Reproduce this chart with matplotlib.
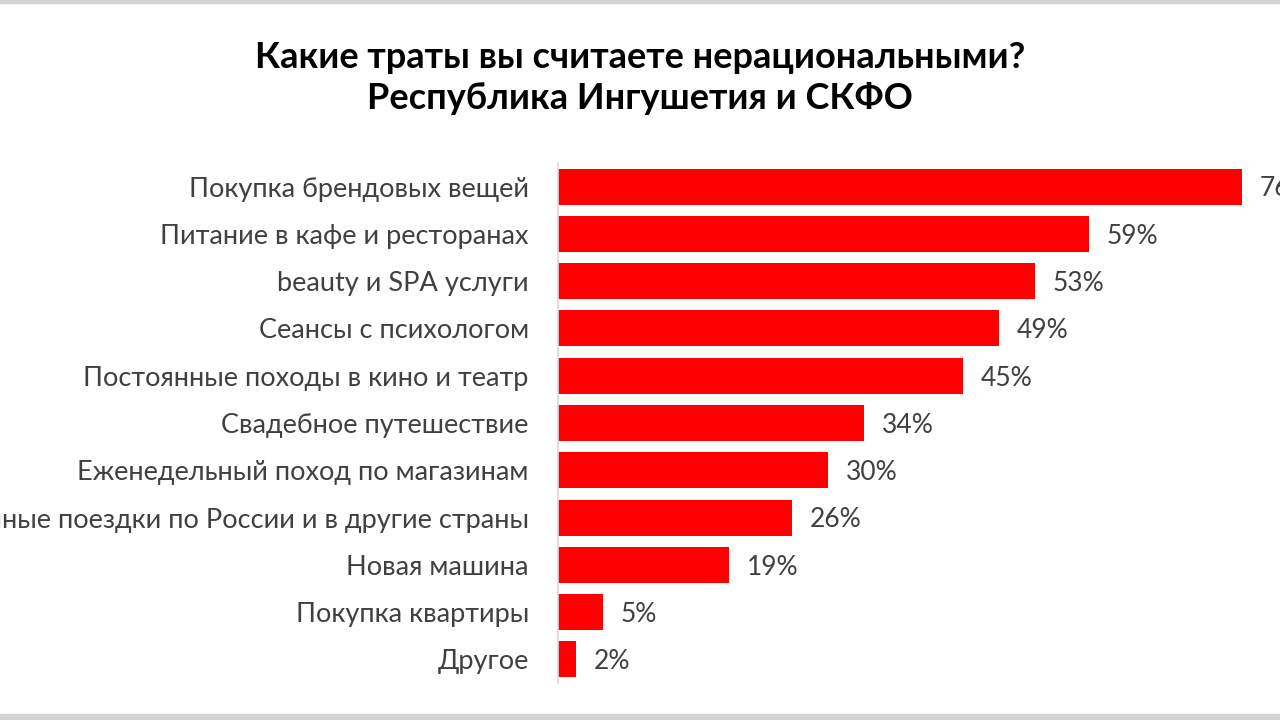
import matplotlib.pyplot as plt
from matplotlib.patches import Rectangle

categories = [
    "Покупка брендовых вещей",
    "Питание в кафе и ресторанах",
    "beauty и SPA услуги",
    "Сеансы с психологом",
    "Постоянные походы в кино и театр",
    "Свадебное путешествие",
    "Еженедельный поход по магазинам",
    "Постоянные поездки по России и в другие страны",
    "Новая машина",
    "Покупка квартиры",
    "Другое",
]
values = [76, 59, 53, 49, 45, 34, 30, 26, 19, 5, 2]

title = "Какие траты вы считаете нерациональными?\nРеспублика Ингушетия и СКФО"

plt.rcParams['font.family'] = ['Lato', 'DejaVu Sans']

W, H = 1280, 720
fig = plt.figure(figsize=(W / 100, H / 100), dpi=100)

# axes placed in pixel units: x0 = 558px, 9 px per percent, rows from 163 to 683
left, top, bottom = 558, 163, 683
px_per_pct = 9.0
xmax = 80
ax = fig.add_axes([left / W, 1 - bottom / H, xmax * px_per_pct / W, (bottom - top) / H])

n = len(categories)
ypos = list(range(n))
ax.barh(ypos, values, height=0.76, color="#ff0000")
ax.set_ylim(n - 0.5, -0.5)
ax.set_xlim(0, xmax)

for y, v in zip(ypos, values):
    ax.text(v + 2.0, y + 0.05, f"{v}%", va="center", ha="left", fontsize=19,
            color="#404040", clip_on=False)

ax.set_yticks(ypos)
ax.set_yticklabels(categories, fontsize=19.5, color="#404040")
ax.tick_params(axis="y", length=0, pad=21)
ax.set_xticks([])

for s in ["top", "right", "bottom"]:
    ax.spines[s].set_visible(False)
ax.spines["left"].set_color("#d9d9d9")
ax.spines["left"].set_linewidth(1.2)

fig.text(0.5, 1 - 78 / H, title, ha="center", va="center", fontsize=26,
         fontweight="bold", color="#000000", linespacing=1.33)

# thin grey bands along the top and bottom edges
fig.patches.append(Rectangle((0, 1 - 3 / H), 1, 3 / H, transform=fig.transFigure,
                             color="#d4d4d4", zorder=0))
fig.patches.append(Rectangle((0, 0), 1, 6 / H, transform=fig.transFigure,
                             color="#d4d4d4", zorder=0))

fig.savefig("out.png", dpi=100)
